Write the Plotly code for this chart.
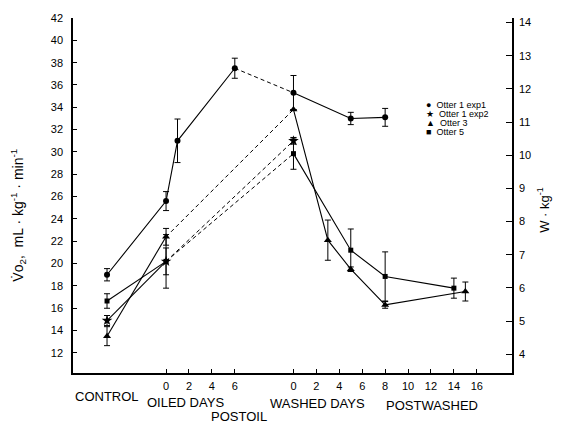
import plotly.graph_objects as go

# ---------------- data ----------------
oiled_ticks = [0, 2, 4, 6]
washed_ticks = [0, 2, 4, 6, 8, 10, 12, 14, 16]
left_ticks = list(range(12, 43, 2))
right_ticks = list(range(4, 15))

# Otter 1 exp1 (circle)
o1e1_stage = ["control", "oiled", "oiled", "oiled", "washed", "washed", "washed"]
o1e1_day = [0, 0, 1, 6, 0, 5, 8]
o1e1_vo2 = [19.0, 25.6, 31.0, 37.5, 35.3, 33.0, 33.1]
o1e1_err = [0.55, 0.85, 1.95, 0.9, 1.55, 0.55, 0.8]

# Otter 1 exp2 (star)
o1e2_stage = ["control", "oiled", "washed"]
o1e2_day = [0, 0, 0]
o1e2_vo2 = [14.9, 20.2, 31.0]
o1e2_err = [0.45, 1.2, 0.3]

# Otter 3 (triangle)
o3_stage = ["control", "oiled", "washed", "washed", "washed", "washed", "washed"]
o3_day = [0, 0, 0, 3, 5, 8, 15]
o3_vo2 = [13.5, 22.4, 33.8, 22.1, 19.5, 16.3, 17.5]
o3_err = [0.85, 0.75, 0.0, 1.8, 0.2, 0.3, 0.85]

# Otter 5 (square)
o5_stage = ["control", "oiled", "washed", "washed", "washed", "washed"]
o5_day = [0, 0, 0, 5, 8, 14]
o5_vo2 = [16.65, 20.2, 29.85, 21.2, 18.85, 17.8]
o5_err = [0.65, 2.4, 1.4, 1.9, 2.2, 0.9]

legend_names = ["Otter 1 exp1", "Otter 1 exp2", "Otter 3", "Otter 5"]
legend_glyphs = ["\u25CF", "\u2605", "\u25B2", "\u25A0"]

# ---------------- layout helpers ----------------
W, H = 561, 428
ML, MR, MT, MB = 73, 49, 12, 55
PW, PH = W - ML - MR, H - MT - MB

CONTROL_X = -5.15
WASHED_OFFSET = 11.12
X_RANGE = [-8.12, 30.19]
Y_RANGE = [10.2, 42.0]
K = 0.3366  # mL O2/kg/min -> W/kg


def xpos(stage, day):
    if stage == "control":
        return CONTROL_X
    if stage == "oiled":
        return day
    return WASHED_OFFSET + day


def P(px, py):
    return (px - ML) / PW, (H - MB - py) / PH


FONT = "Liberation Sans, Arial, sans-serif"
fig = go.Figure()

series = [
    (o1e1_stage, o1e1_day, o1e1_vo2, o1e1_err, "circle", 6),
    (o1e2_stage, o1e2_day, o1e2_vo2, o1e2_err, "star", 8),
    (o3_stage, o3_day, o3_vo2, o3_err, "triangle-up", 7),
    (o5_stage, o5_day, o5_vo2, o5_err, "square", 5),
]

for stage, day, vo2, err, sym, msize in series:
    xs = [xpos(s, d) for s, d in zip(stage, day)]
    pre = [i for i, s in enumerate(stage) if s != "washed"]
    post = [i for i, s in enumerate(stage) if s == "washed"]
    for idx in (pre, post):
        if not idx:
            continue
        fig.add_trace(go.Scatter(
            x=[xs[i] for i in idx], y=[vo2[i] for i in idx],
            mode="lines+markers",
            line=dict(color="black", width=1.1),
            marker=dict(symbol=sym, size=msize, color="black"),
            error_y=dict(type="data", array=[err[i] for i in idx],
                         color="black", thickness=1, width=3),
            showlegend=False, hoverinfo="skip"))
    if pre and post:
        a, b = pre[-1], post[0]
        fig.add_trace(go.Scatter(
            x=[xs[a], xs[b]], y=[vo2[a], vo2[b]], mode="lines",
            line=dict(color="black", width=1, dash="4px,3px"),
            showlegend=False, hoverinfo="skip"))

# invisible trace on right axis
fig.add_trace(go.Scatter(x=[None], y=[None], yaxis="y2", showlegend=False))

tickvals = [xpos("oiled", d) for d in oiled_ticks] + [xpos("washed", d) for d in washed_ticks]
ticktext = [str(d) for d in oiled_ticks] + [str(d) for d in washed_ticks]

fig.update_layout(
    width=W, height=H,
    margin=dict(l=ML, r=MR, t=MT, b=MB),
    paper_bgcolor="white", plot_bgcolor="white",
    font=dict(family=FONT, color="black", size=12),
    xaxis=dict(range=X_RANGE, tickvals=tickvals, ticktext=ticktext,
               showgrid=False, zeroline=False, showline=True, linecolor="black",
               linewidth=1.5, ticks="inside", ticklen=4, tickcolor="black",
               tickfont=dict(size=11), ticklabelstandoff=2),
    yaxis=dict(range=Y_RANGE, tickvals=left_ticks, showgrid=False, zeroline=False,
               showline=True, linecolor="black", linewidth=1.5, ticks="inside",
               ticklen=4, tickcolor="black", tickfont=dict(size=11),
               ticklabelstandoff=6),
    yaxis2=dict(range=[Y_RANGE[0] * K, Y_RANGE[1] * K], tickvals=right_ticks,
                overlaying="y", side="right", showgrid=False, zeroline=False,
                showline=True, linecolor="black", linewidth=1.5, ticks="inside",
                ticklen=6, tickcolor="black", tickfont=dict(size=11),
                ticklabelstandoff=3),
)

ann = []


def add_text(px, py, text, size=13, angle=0, xanchor="center"):
    x, y = P(px, py)
    ann.append(dict(x=x, y=y, xref="paper", yref="paper", text=text, showarrow=False,
                    textangle=angle, xanchor=xanchor, yanchor="middle",
                    font=dict(size=size, family=FONT, color="black")))


add_text(18, 212, "V\u0307o<sub>2</sub>,  mL \u00b7 kg<sup>-1</sup> \u00b7 min<sup>-1</sup>",
         size=14, angle=-90)
add_text(543, 207, "W \u00b7 kg<sup>-1</sup>", size=13, angle=-90)
add_text(107, 397, "CONTROL")
add_text(185, 403, "OILED DAYS")
add_text(239, 417, "POSTOIL")
add_text(317.5, 404, "WASHED DAYS")
add_text(431.5, 406, "POSTWASHED")

for i, (g, n) in enumerate(zip(legend_glyphs, legend_names)):
    add_text(424, 100 + 9.3 * i, g + "  " + n, size=9, xanchor="left")

fig.update_layout(annotations=ann)
fig.write_html("out.html", config={"displayModeBar": False},
               post_script="document.body.style.margin='0';document.body.style.overflow='hidden';")
